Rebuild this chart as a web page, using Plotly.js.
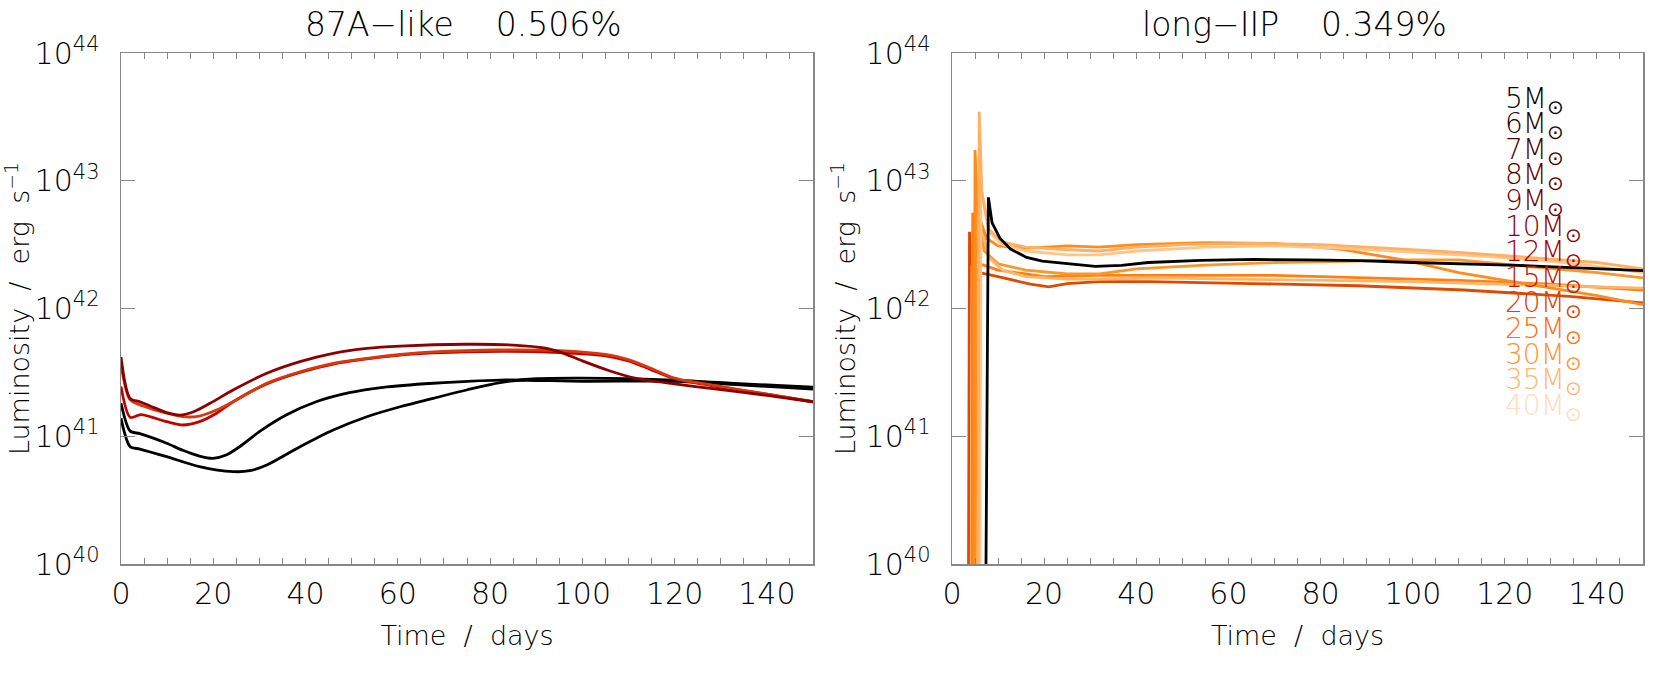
<!DOCTYPE html>
<html>
<head>
<meta charset="utf-8">
<script src="https://cdn.plot.ly/plotly-3.0.1.min.js"></script>
<style>
  html, body { margin: 0; padding: 0; background: #fff; }
  #chart { width: 1661px; height: 674px; }
</style>
</head>
<body>
<div id="chart"></div>
<script>
// values are log10(L / erg s^-1)

// left panel: 87A-like
var tLeftBlack1 = [0, 2, 4.1, 9.9, 13.4, 17, 19.9, 22.8, 25.7, 30, 35.8, 42.3, 49.5, 56.8, 67.7, 82.2, 100, 120, 135, 150];
var logLeftBlack1 = [41.26, 41.04, 41.02, 40.945, 40.89, 40.845, 40.827, 40.853, 40.918, 41.036, 41.166, 41.27, 41.341, 41.383, 41.415, 41.44, 41.43, 41.43, 41.40, 41.37];

var tLeftBlack2 = [0, 2, 4.1, 9.9, 17, 24.3, 27.9, 31.6, 38.8, 46, 53.3, 60.5, 67.7, 74.9, 82.2, 90, 100, 120, 135, 150];
var logLeftBlack2 = [41.14, 40.918, 40.90, 40.84, 40.762, 40.723, 40.73, 40.775, 40.918, 41.049, 41.153, 41.231, 41.297, 41.362, 41.42, 41.45, 41.455, 41.44, 41.41, 41.385];

var tLeftMaroon = [0, 1.95, 4.1, 6.3, 9.9, 12.8, 15.6, 19.3, 24.3, 31.6, 38.8, 46, 53.3, 60.5, 74.9, 85, 92, 95.4, 100, 105.7, 111.4, 120, 128.7, 140, 150];
var logLeftMaroon = [41.62, 41.297, 41.27, 41.237, 41.185, 41.166, 41.19, 41.258, 41.362, 41.493, 41.584, 41.649, 41.688, 41.706, 41.72, 41.714, 41.69, 41.657, 41.59, 41.515, 41.455, 41.41, 41.37, 41.32, 41.27];

var tLeftOrange = [0, 2, 4.8, 9.9, 13.4, 17, 20.7, 24.3, 31.6, 38.8, 46, 53.3, 60.5, 67.7, 82.2, 95, 105, 110, 115, 120, 130, 140, 150];
var logLeftOrange = [41.56, 41.284, 41.237, 41.18, 41.153, 41.158, 41.205, 41.27, 41.415, 41.505, 41.571, 41.61, 41.64, 41.66, 41.675, 41.67, 41.64, 41.6, 41.53, 41.455, 41.39, 41.33, 41.27];

var tLeftRed = [0, 2, 4.3, 9.9, 13.4, 17, 20.7, 24.3, 31.6, 38.8, 46, 53.3, 60.5, 67.7, 82.2, 95, 105, 110, 115, 120, 130, 140, 150];
var logLeftRed = [41.39, 41.148, 41.17, 41.114, 41.088, 41.114, 41.18, 41.27, 41.41, 41.50, 41.565, 41.605, 41.635, 41.652, 41.665, 41.655, 41.63, 41.59, 41.52, 41.45, 41.385, 41.33, 41.27];

// right panel: long-IIP
var tRightBlack = [7.2, 7.9, 8.7, 10.4, 12.7, 16.2, 19.6, 25.4, 31.1, 36.8, 42.6, 54, 65.5, 77, 88.5, 100, 111.4, 122.9, 134.4, 150];
var logRightBlack = [39, 42.87, 42.67, 42.55, 42.465, 42.40, 42.37, 42.35, 42.33, 42.337, 42.36, 42.377, 42.384, 42.38, 42.375, 42.36, 42.35, 42.337, 42.32, 42.296];

var tRightA = [5.6, 5.9, 6.5, 8, 11, 16, 25, 32, 40, 50, 65, 80, 95, 110, 125, 140, 150];
var logRightA = [39, 43.54, 42.9, 42.62, 42.52, 42.48, 42.46, 42.45, 42.48, 42.50, 42.51, 42.50, 42.47, 42.44, 42.40, 42.36, 42.31];

var tRightB = [4.7, 5.0, 5.6, 7.5, 10, 16, 25, 32, 40, 55, 70, 85, 98, 110, 125, 140, 150];
var logRightB = [39, 43.24, 42.75, 42.55, 42.49, 42.47, 42.49, 42.48, 42.50, 42.515, 42.51, 42.46, 42.38, 42.28, 42.19, 42.10, 42.03];

var tRightC = [6.0, 6.3, 8, 11, 16, 25, 32, 40, 55, 70, 85, 100, 115, 130, 140, 150];
var logRightC = [39, 42.95, 42.6, 42.5, 42.45, 42.42, 42.42, 42.45, 42.48, 42.49, 42.47, 42.44, 42.41, 42.37, 42.33, 42.28];

var tRightD = [5.0, 5.3, 7, 10, 16, 25, 32, 40, 55, 70, 85, 100, 110, 125, 140, 150];
var logRightD = [39, 42.8, 42.45, 42.35, 42.30, 42.27, 42.27, 42.31, 42.34, 42.36, 42.37, 42.38, 42.38, 42.33, 42.28, 42.24];

var tRightE = [5.7, 6.0, 8, 11, 16, 25, 32, 45, 60, 80, 100, 120, 140, 150];
var logRightE = [39, 42.7, 42.4, 42.3, 42.25, 42.23, 42.23, 42.24, 42.23, 42.22, 42.21, 42.19, 42.17, 42.16];

var tRightF = [3.5, 3.8, 4.5, 6, 10, 17, 21, 25, 32, 43, 65, 88, 111, 134, 150];
var logRightF = [39, 42.60, 42.30, 42.28, 42.25, 42.19, 42.17, 42.195, 42.21, 42.21, 42.195, 42.178, 42.145, 42.095, 42.044];

var tRightG = [4.2, 4.5, 6, 10, 16, 20, 32, 50, 70, 90, 110, 130, 150];
var logRightG = [39, 42.75, 42.35, 42.30, 42.27, 42.25, 42.26, 42.26, 42.26, 42.24, 42.22, 42.19, 42.145];

// legend of masses
var massLabels = ["5", "6", "7", "8", "9", "10", "12", "15", "20", "25", "30", "35", "40"];
var massColors = ["#000000", "#2a0000", "#4a0000", "#5e0000", "#740000", "#8c0000", "#a80000", "#c21a00", "#dc4400", "#ff6e0a", "#ff952e", "#ffb672", "#ffdcbc"];

var yTickVals = [1e40, 1e41, 1e42, 1e43, 1e44];
var yTickText = ["10<sup>40</sup>", "10<sup>41</sup>", "10<sup>42</sup>", "10<sup>43</sup>", "10<sup>44</sup>"];

function toLum(arr) {
  return arr.map(function (v) { return Math.pow(10, v); });
}

function line(t, logL, color, xa, ya, smooth) {
  return {
    x: t, y: toLum(logL), xaxis: xa, yaxis: ya,
    type: "scatter", mode: "lines",
    line: {color: color, width: 2.8, shape: smooth ? "spline" : "linear", smoothing: 0.8},
    hoverinfo: "skip", showlegend: false
  };
}

var data = [
  line(tLeftBlack2, logLeftBlack2, "#000000", "x", "y", true),
  line(tLeftBlack1, logLeftBlack1, "#000000", "x", "y", true),
  line(tLeftRed, logLeftRed, "#c40000", "x", "y", true),
  line(tLeftOrange, logLeftOrange, "#d8380c", "x", "y", true),
  line(tLeftMaroon, logLeftMaroon, "#8e0000", "x", "y", true),

  line(tRightF, logRightF, "#e04a00", "x2", "y2"),
  line(tRightG, logRightG, "#ff7f10", "x2", "y2"),
  line(tRightD, logRightD, "#ff9428", "x2", "y2"),
  line(tRightE, logRightE, "#ffb468", "x2", "y2"),
  line(tRightB, logRightB, "#ff8c1a", "x2", "y2"),
  line(tRightC, logRightC, "#ffc48a", "x2", "y2"),
  line(tRightA, logRightA, "#ffb060", "x2", "y2"),
  line(tRightBlack, logRightBlack, "#000000", "x2", "y2")
];

var fam = "'DejaVu Sans', sans-serif";
var font = {family: fam, size: 27, color: "#000", weight: 200};
var tickFont = {family: fam, size: 30, color: "#000", weight: 200};

function xAxis(domain, anchor) {
  return {
    domain: domain, anchor: anchor, range: [0, 150],
    dtick: 20, ticks: "inside", ticklen: 6, tickcolor: "#888",
    minor: {dtick: 5, ticks: "inside", ticklen: 6, tickcolor: "#888"},
    showline: true, linecolor: "#888", linewidth: 1.5, mirror: "ticks",
    showgrid: false, zeroline: false,
    tickfont: tickFont, ticklabelstandoff: 2,
    title: {text: "Time\u00a0\u00a0/\u00a0\u00a0days", font: font, standoff: 16}
  };
}

function yAxis(domain, anchor) {
  return {
    domain: domain, anchor: anchor, type: "log", range: [40, 44],
    tickvals: yTickVals, ticktext: yTickText,
    ticks: "inside", ticklen: 14, tickcolor: "#888",
    showline: true, linecolor: "#888", linewidth: 1.5, mirror: "ticks",
    showgrid: false, zeroline: false,
    tickfont: tickFont, ticklabelstandoff: 14,
    title: {text: "Luminosity\u00a0\u00a0/\u00a0\u00a0erg\u00a0\u00a0s<sup>\u22121</sup>", font: font, standoff: 2}
  };
}

var titleFont = {family: fam, size: 33, color: "#000", weight: 200};
var annotations = [
  {text: "87A\u2212like\u00a0\u00a0\u00a0\u00a00.506%", x: 463 / 1661, y: 1 - 24 / 674, xref: "paper", yref: "paper",
   xanchor: "center", yanchor: "middle", showarrow: false, font: titleFont},
  {text: "long\u2212IIP\u00a0\u00a0\u00a0\u00a00.349%", x: 1294 / 1661, y: 1 - 24 / 674, xref: "paper", yref: "paper",
   xanchor: "center", yanchor: "middle", showarrow: false, font: titleFont}
];

// mass labels stacked down the right panel
var labelTop = 100;
var labelStep = 25.6;
massLabels.forEach(function (m, i) {
  annotations.push({
    text: m + "M<sub>\u2299</sub>",
    x: 1503 / 1661, y: 1 - (labelTop + i * labelStep) / 674,
    xref: "paper", yref: "paper", xanchor: "left", yanchor: "middle",
    showarrow: false,
    font: {family: fam, size: 28, color: massColors[i], weight: 200}
  });
});

var layout = {
  width: 1661, height: 674,
  margin: {l: 0, r: 0, t: 0, b: 0},
  paper_bgcolor: "#fff", plot_bgcolor: "#fff",
  font: font,
  xaxis: xAxis([121 / 1661, 813 / 1661], "y"),
  yaxis: yAxis([1 - 564 / 674, 1 - 53 / 674], "x"),
  xaxis2: xAxis([952 / 1661, 1643 / 1661], "y2"),
  yaxis2: yAxis([1 - 564 / 674, 1 - 53 / 674], "x2"),
  annotations: annotations
};

Plotly.newPlot("chart", data, layout, {staticPlot: true});
</script>
</body>
</html>
